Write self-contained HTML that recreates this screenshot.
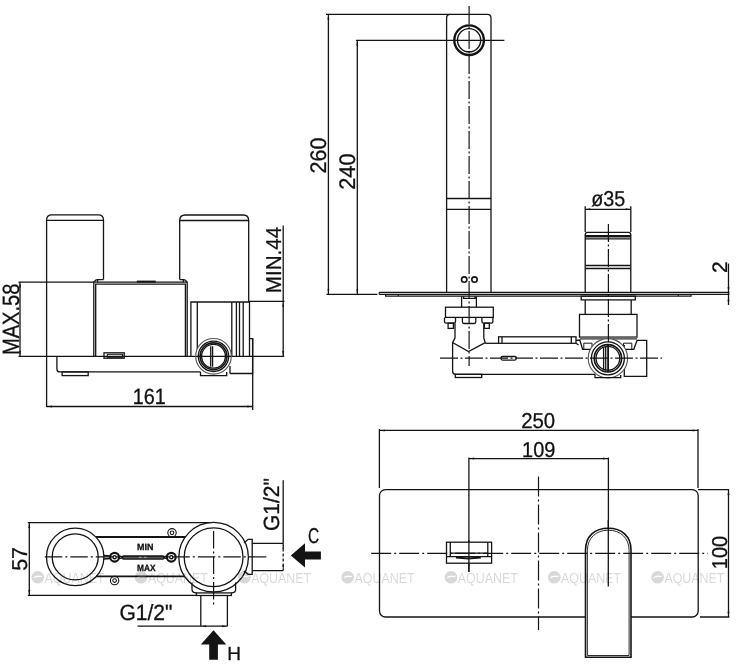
<!DOCTYPE html>
<html><head><meta charset="utf-8">
<style>
html,body{margin:0;padding:0;background:#fff;}
body{width:737px;height:664px;overflow:hidden;}
svg{display:block;filter:grayscale(1);}
text{font-family:"Liberation Sans",sans-serif;fill:#111;stroke:#111;stroke-width:0.3px;}
.wm text{stroke:none;}
svg{text-rendering:geometricPrecision;-webkit-font-smoothing:antialiased;}
</style></head>
<body>
<svg width="737" height="664" viewBox="0 0 737 664">
<rect width="737" height="664" fill="#fff"/>

<!-- ============ TOP RIGHT: side view of spout ============ -->
<g stroke="#141414" stroke-width="1.3" fill="none">
  <!-- dimension lines 260 / 240 -->
  <path d="M326 14.3H450 M356 40.4H504.4"/>
  <path d="M328.4 14.3V294.4 M357.3 40.4V294.4 M326.5 294.4H377.4"/>
  <!-- spout -->
  <path d="M446.6 292.4V18 Q446.6 14.3 450.3 14.3 H487.3 Q491 14.3 491 18 V292.4"/>
  <path d="M446.6 198.5H491 M446.6 209.4H491"/>
  <circle cx="469.1" cy="40.2" r="14.8" stroke-width="2.4"/>
  <circle cx="469.1" cy="40.2" r="11.6" stroke-width="1.4"/>
  <circle cx="464.2" cy="279.6" r="2.7" stroke-width="1.6"/>
  <circle cx="474.5" cy="279.6" r="2.7" stroke-width="1.6"/>
  <!-- wall plate -->
  <path d="M379.2 292.4H729.4 M379.2 294.3H729.4 M385.6 294.3V296.2 H691 V294.3 M379.2 292.4V294.3 M398.3 294.3V296.2 M678.3 294.3V296.2" stroke-width="1.2"/>
  <!-- dim 2 -->
  <path d="M728.5 263.6V305"/>
  <!-- handle knob -->
  <path d="M585.2 292.4V235 Q585.2 232.4 587.6 232.4 H628.4 Q630.8 232.4 630.8 235 V292.4"/>
  <path d="M585.2 236.2H630.8" stroke-width="2.6"/><path d="M585.2 238.8H630.8"/>
  <path d="M585.2 265.5H630.8 M585.2 268.5H630.8"/>
  <!-- dim ø35 -->
  <path d="M585.2 206.3V232 M630.8 206.3V232 M585.2 209.3H630.8"/>
  <!-- below plate, spout side -->
  <path d="M461.6 296.2V307.2 M476.4 296.2V307.2 M463.6 296.2V298.3H475V296.2"/>
  <rect x="445.5" y="307.2" width="47.8" height="10.2"/>
  <path d="M444.5 317.4V321.5Q444.5 323.1 446 323.1H454Q455.5 323.1 455.5 321.5V317.4"/>
  <rect x="448.1" y="323.1" width="5.3" height="5.3"/>
  <path d="M462.4 317.4V321.8Q462.4 323.5 464 323.5H474.2Q475.8 323.5 475.8 321.8V317.4"/>
  <path d="M481.9 317.4V321.5Q481.9 323.1 483.4 323.1H491.4Q492.9 323.1 492.9 321.5V317.4"/>
  <rect x="484.4" y="323.1" width="4.9" height="5.3"/>
  <!-- body -->
  <path d="M455 323.2V338 L452.6 342.6 L468.5 351.5 L485.2 342.6 L483.8 338V323.2"/>
  <path d="M452.6 342.6V371.3Q452.6 374.3 455.6 374.3H595"/>
  <path d="M485.2 343.3H498.6"/>
  <rect x="455.3" y="374.3" width="26.4" height="3.2"/>
  <rect x="498.6" y="336.8" width="77.4" height="6.5"/>
  <path d="M502 336.8V343.3 M571.3 336.8V343.3"/>
  <rect x="501" y="356.5" width="15.3" height="3.6" rx="1.5"/>
  <!-- handle side below plate -->
  <rect x="581.2" y="296.2" width="54.1" height="3.7"/>
  <path d="M585.2 299.9V314.4 M631.2 299.9V314.4"/>
  <rect x="579.5" y="314.4" width="57.5" height="22.7"/>
  <rect x="580" y="336.9" width="57" height="2.8" fill="#666" stroke="none"/>
  <path d="M576 340.3 L579.8 340 L582.6 349.3 H594.5 M576 343.3 L578.6 345"/>
  <path d="M583.8 343.2H592V349.3 M583.8 343.2V349.3" stroke-width="1"/>
  <path d="M637.2 340 L633.8 349.3 H621.5"/>
  <path d="M623.5 343.2H631.8V349.3 M623.5 343.2V349.3" stroke-width="1"/>
  <path d="M624.3 345V376.4H646.7V340.4H637"/>
  <circle cx="607.9" cy="358.3" r="19.7" fill="#fff" stroke="#555" stroke-width="1.1"/>
  <circle cx="607.9" cy="358.3" r="16.5"/>
  <circle cx="607.9" cy="358.3" r="13.7" stroke-width="1.6"/>
  <circle cx="607.9" cy="358.3" r="11.9"/>
  <path d="M603.6 347V370.3 M605.7 347V370.3"/>
  <path d="M608.1 345V372" stroke-width="1.8"/>
  <path d="M595 374.3V377.6H620.7V375"/>
</g>
<!-- centerlines top right -->
<g stroke="#141414" stroke-width="1.2" fill="none" stroke-dasharray="18 2.5 2 2.5">
  <path d="M469.1 6V366"/>
  <path d="M608.4 224V346"/>
  <path d="M440 358.2H662"/>
</g>
<!-- arrowheads -->
<g fill="#141414">
  <path d="M328.4 15 l-1 4.5 h2z M357.3 41 l-1 4.5 h2z M328.4 293.8 l-1 -4.5 h2z M357.3 293.8 l-1 -4.5 h2z"/>
  <path d="M585.8 209.3 l4.5 -1 v2z M630.2 209.3 l-4.5 -1 v2z"/>
  <path d="M728.5 291.8 l-1 -4.5 h2z M728.5 296.8 l-1 4.5 h2z"/>
</g>
<text transform="translate(325.6,155.6) rotate(-90)" text-anchor="middle" font-size="22.5" textLength="35.9" lengthAdjust="spacingAndGlyphs">260</text>
<text transform="translate(355.4,171.6) rotate(-90)" text-anchor="middle" font-size="22.5" textLength="36.4" lengthAdjust="spacingAndGlyphs">240</text>
<text x="608.3" y="205.6" text-anchor="middle" font-size="21.5" textLength="34" lengthAdjust="spacingAndGlyphs">ø35</text>
<text transform="translate(726.8,267.2) rotate(-90)" text-anchor="middle" font-size="21">2</text>

<!-- ============ LEFT MIDDLE: side view of body ============ -->
<g stroke="#141414" stroke-width="1.3" fill="none">
  <!-- left cylinder -->
  <path d="M46.6 407V220 Q46.6 214.8 51.8 214.8 H98.3 Q103.5 214.8 103.5 220 V279.4"/>
  <path d="M46.6 220.3H103.5"/>
  <path d="M94.5 282.2Q95 279.6 97.6 279.6H103.5 M97.6 279.6V282.2"/>
  <!-- right cylinder -->
  <path d="M179.7 279.4V220.5 Q179.7 215 185.2 215 H243.2 Q248.7 215 248.7 220.5 V302"/>
  <path d="M179.7 220.5H248.7"/>
  <path d="M179.7 279.6H183.3Q186 279.6 186.6 282.2 M183.3 279.6V282.2"/>
  <!-- MAX.58 dims -->
  <path d="M18.5 282.2H94 M20 282.2V356.4 M18.5 356.4H284.2"/>
  <!-- middle box -->
  <path d="M93.8 356.4V282.2H187.2V356.4 M95.7 356.4V284.2H185.4V356.4"/>
  <path d="M136.8 281.6H155.8" stroke-width="2"/>
  <rect x="104" y="352.8" width="20.2" height="5.4"/>
  <rect x="107.3" y="354.3" width="15.2" height="3" stroke-width="1"/>
  <!-- base -->
  <path d="M56.9 356.4V368.9Q56.9 371.9 59.9 371.9H200.5"/>
  <rect x="62.1" y="371.9" width="26.1" height="3.7"/>
  <!-- sub-box -->
  <path d="M190.9 356.4V302H249.5V356.4"/>
  <path d="M197.3 302V356 M231.8 302V356 M236.4 302V356.4 M239.5 302V356.4 M243.2 302V356.4"/>
  <path d="M249.5 338.7H252.6V373.5H230"/>
  <path d="M252.7 338.6V410"/>
  <circle cx="213.5" cy="356.3" r="17.8" fill="#fff" stroke="#555" stroke-width="1.1"/>
  <circle cx="213.5" cy="356.3" r="15.2"/>
  <circle cx="213.5" cy="356.3" r="13.4" stroke-width="1.6"/>
  <circle cx="213.5" cy="356.3" r="11.9"/>
  <path d="M210.7 346.2V366.7 M212.6 346.2V366.7"/>
  <path d="M200.5 372V375.6H226.7V372 M230 366V373.5"/>
  <path d="M196 356.4H231"/>
  <!-- MIN.44 -->
  <path d="M248.7 301.4H284.5 M283.2 225.4V356.4"/>
  <!-- 161 -->
  <path d="M46.6 406.5H252.7"/>
</g>
<g fill="#141414">
  <path d="M20 283 l-1 4.5 h2z M20 355.6 l-1 -4.5 h2z"/>
  <path d="M283.2 302.2 l-1 4.5 h2z M283.2 355.6 l-1 -4.5 h2z"/>
  <path d="M47.4 406.5 l4.5 -1 v2z M251.9 406.5 l-4.5 -1 v2z"/>
</g>
<text transform="translate(19.2,319.3) rotate(-90)" text-anchor="middle" font-size="23.5" textLength="71.5" lengthAdjust="spacingAndGlyphs">MAX.58</text>
<text transform="translate(281,260) rotate(-90)" text-anchor="middle" font-size="21.5" textLength="66.5" lengthAdjust="spacingAndGlyphs">MIN.44</text>
<text x="149.2" y="403.8" text-anchor="middle" font-size="22" textLength="33" lengthAdjust="spacingAndGlyphs">161</text>

<!-- ============ BOTTOM LEFT: top view of body ============ -->
<g stroke="#141414" stroke-width="1.3" fill="none">
  <path d="M27.8 522.6H214 M27.8 595.3H196.4 M29.3 522.6V595.3"/>
  <circle cx="75.2" cy="556.9" r="28.7"/>
  <circle cx="75.2" cy="556.9" r="23"/>
  <!-- bar -->
  <path d="M96 537H185.5" stroke-width="2"/>
  <path d="M96 576.4H184" stroke-width="1.6"/>
  <!-- tabs -->
  <circle cx="172" cy="532.8" r="4.2" stroke-width="1.1"/>
  <circle cx="172" cy="532.8" r="1.8" stroke-width="1.1"/>
  <circle cx="114.6" cy="580.6" r="4.2" stroke-width="1.1"/>
  <circle cx="114.6" cy="580.6" r="1.8" stroke-width="1.1"/>
  <!-- screws -->
  <circle cx="114.6" cy="557.2" r="4.4" stroke-width="2.2"/>
  <circle cx="114.6" cy="557.2" r="1.6" stroke-width="1.4"/>
  <circle cx="171.3" cy="557.2" r="4.4" stroke-width="2.2"/>
  <circle cx="171.3" cy="557.2" r="1.6" stroke-width="1.4"/>
  <rect x="122.5" y="556" width="41.4" height="3" rx="1" stroke-width="1.4" fill="#999"/>
  <path d="M104 555.5 L110 556 M104 559 L110 558.5 M119 556 L122.5 556.8 M119 558.5 L122.5 557.8 M163.9 556.8 L167 556 M163.9 557.8 L167 558.5"/>
  <!-- right big circle -->
  <circle cx="213.6" cy="557.2" r="34.8" fill="#fff"/>
  <circle cx="213.6" cy="557.2" r="29.4"/>
  <!-- right outlet -->
  <path d="M244 543 L248.1 539.3 H252.2 V574.3 H248.1 L244 571"/>
  <path d="M252.2 543.4H283.2 M252.2 570.6H283.2"/>
  <path d="M283.2 543.4V570.6" stroke-dasharray="3 2"/>
  <!-- bottom outlet -->
  <path d="M192 582.5V589.5Q192 592.9 196.4 592.9 M235.6 582.5V589.5Q235.6 592.9 231.4 592.9"/>
  <rect x="196.4" y="592.9" width="35" height="2.6"/>
  <path d="M200.8 595.5V626.2 M227.4 595.5V626.2"/>
  <!-- dims -->
  <path d="M283.2 480.2V543.4"/>
  <path d="M137.5 626.2H227.4"/>
</g>
<g stroke="#141414" stroke-width="1.2" fill="none" stroke-dasharray="17.5 3 2 3">
  <path d="M44.8 556.9H266.5"/>
  <path d="M213.6 531V607"/>
</g>
<g fill="#141414">
  <path d="M29.3 523.4 l-1 4.5 h2z M29.3 594.5 l-1 -4.5 h2z"/>
  <path d="M201.6 626.2 l4.5 -1 v2z M226.6 626.2 l-4.5 -1 v2z"/>
  <path d="M283.2 544.2 l-1 4.5 h2z M283.2 569.8 l-1 -4.5 h2z"/>
  <!-- C arrow -->
  <path d="M290.8 555.4 L305 543.3 V551.4 H320.9 V559.5 H305 V567.6 Z"/>
  <!-- H arrow -->
  <path d="M213.5 630.3 L226.3 644.6 H217.9 V659.8 H209.2 V644.6 H200.8 Z"/>
</g>
<text x="145.2" y="549.7" text-anchor="middle" font-size="9" font-weight="bold" textLength="16.4" lengthAdjust="spacingAndGlyphs">MIN</text>
<text x="146.3" y="570.6" text-anchor="middle" font-size="9" font-weight="bold" textLength="18.6" lengthAdjust="spacingAndGlyphs">MAX</text>
<text transform="translate(26.9,558.9) rotate(-90)" text-anchor="middle" font-size="21.5">57</text>
<text transform="translate(278.6,504.6) rotate(-90)" text-anchor="middle" font-size="22" textLength="53" lengthAdjust="spacingAndGlyphs">G1/2"</text>
<text x="146" y="619.9" text-anchor="middle" font-size="22" textLength="53" lengthAdjust="spacingAndGlyphs">G1/2"</text>
<text transform="translate(313.6,543.4) scale(0.72,1)" text-anchor="middle" font-size="21.5">C</text>
<text x="234" y="659.8" text-anchor="middle" font-size="19">H</text>

<!-- ============ BOTTOM RIGHT: front view ============ -->
<g stroke="#141414" stroke-width="1.3" fill="none">
  <path d="M379.4 430.4H698 M379.4 429V488 M698 429V488"/>
  <path d="M468.9 458.6H608.4 M468.9 457.5V571.8 M608.4 457.5V586.5"/>
  <rect x="379.5" y="489.6" width="318.7" height="127.4" rx="6"/>
  <path d="M698 489.6H729.2 M700 617H729.4 M728.5 489.6V617"/>
  <!-- spout box -->
  <rect x="446.5" y="542.2" width="45.1" height="21" fill="#fff"/>
  <path d="M450.3 542.2V556.6 M487.8 542.2V556.6 M450.3 553.1H487.8 M446.5 556.6H491.6"/>
  <path d="M456 557.6 Q468 559.2 480.8 557.6" stroke-width="2"/>
  <path d="M468.9 540V572"/>
  <!-- lever -->
  <path d="M585.5 657.2V550 C585.5 536 595 528.3 608.3 528.3 C621.5 528.3 631 536 631 550 V657.2 Z" fill="#fff" stroke-width="1.6"/>
  <path d="M587.4 655.5V550.5 C587.4 538 596 530.2 608.3 530.2 C620.6 530.2 629.1 538 629.1 550.5 V655.5 Z" stroke-width="0.9"/>
  <path d="M608.3 520V586.5"/>
</g>
<g stroke="#141414" stroke-width="1.2" fill="none" stroke-dasharray="20 3 2 3">
  <path d="M371.2 553.3H707.7"/>
  <path d="M538.5 476.5V630"/>
</g>
<g fill="#141414">
  <path d="M380.2 430.4 l4.5 -1 v2z M697.2 430.4 l-4.5 -1 v2z"/>
  <path d="M469.7 458.6 l4.5 -1 v2z M607.6 458.6 l-4.5 -1 v2z"/>
  <path d="M728.5 490.4 l-1 4.5 h2z M728.5 616.2 l-1 -4.5 h2z"/>
</g>
<text x="538.2" y="427.8" text-anchor="middle" font-size="21.5" textLength="34" lengthAdjust="spacingAndGlyphs">250</text>
<text x="538.7" y="456.6" text-anchor="middle" font-size="21.5" textLength="33.2" lengthAdjust="spacingAndGlyphs">109</text>
<text transform="translate(726.7,552.5) rotate(-90)" text-anchor="middle" font-size="21.5" textLength="33.4" lengthAdjust="spacingAndGlyphs">100</text>

<!-- ============ WATERMARKS ============ -->
<g class="wm" fill="#000" opacity="0.15">
  <circle cx="37.8" cy="577.2" r="6.3"/>
  <path d="M33.8 577.8 Q36.8 575.8 39.3 576.4 T42.3 575.6" fill="none" stroke="#fff" stroke-width="1.3"/>
  <text x="44.6" y="582.8" font-size="14.5" textLength="60" lengthAdjust="spacingAndGlyphs" style="fill:#000">AQUANET</text>
  <circle cx="141.1" cy="577.2" r="6.3"/>
  <path d="M137.1 577.8 Q140.1 575.8 142.6 576.4 T145.6 575.6" fill="none" stroke="#fff" stroke-width="1.3"/>
  <text x="147.9" y="582.8" font-size="14.5" textLength="60" lengthAdjust="spacingAndGlyphs" style="fill:#000">AQUANET</text>
  <circle cx="244.4" cy="577.2" r="6.3"/>
  <path d="M240.4 577.8 Q243.4 575.8 245.9 576.4 T248.9 575.6" fill="none" stroke="#fff" stroke-width="1.3"/>
  <text x="251.2" y="582.8" font-size="14.5" textLength="60" lengthAdjust="spacingAndGlyphs" style="fill:#000">AQUANET</text>
  <circle cx="347.7" cy="577.2" r="6.3"/>
  <path d="M343.7 577.8 Q346.7 575.8 349.2 576.4 T352.2 575.6" fill="none" stroke="#fff" stroke-width="1.3"/>
  <text x="354.5" y="582.8" font-size="14.5" textLength="60" lengthAdjust="spacingAndGlyphs" style="fill:#000">AQUANET</text>
  <circle cx="451.0" cy="577.2" r="6.3"/>
  <path d="M447.0 577.8 Q450.0 575.8 452.5 576.4 T455.5 575.6" fill="none" stroke="#fff" stroke-width="1.3"/>
  <text x="457.8" y="582.8" font-size="14.5" textLength="60" lengthAdjust="spacingAndGlyphs" style="fill:#000">AQUANET</text>
  <circle cx="554.3" cy="577.2" r="6.3"/>
  <path d="M550.3 577.8 Q553.3 575.8 555.8 576.4 T558.8 575.6" fill="none" stroke="#fff" stroke-width="1.3"/>
  <text x="561.1" y="582.8" font-size="14.5" textLength="60" lengthAdjust="spacingAndGlyphs" style="fill:#000">AQUANET</text>
  <circle cx="657.6" cy="577.2" r="6.3"/>
  <path d="M653.6 577.8 Q656.6 575.8 659.1 576.4 T662.1 575.6" fill="none" stroke="#fff" stroke-width="1.3"/>
  <text x="664.4" y="582.8" font-size="14.5" textLength="60" lengthAdjust="spacingAndGlyphs" style="fill:#000">AQUANET</text>
</g>

</svg>
</body></html>
